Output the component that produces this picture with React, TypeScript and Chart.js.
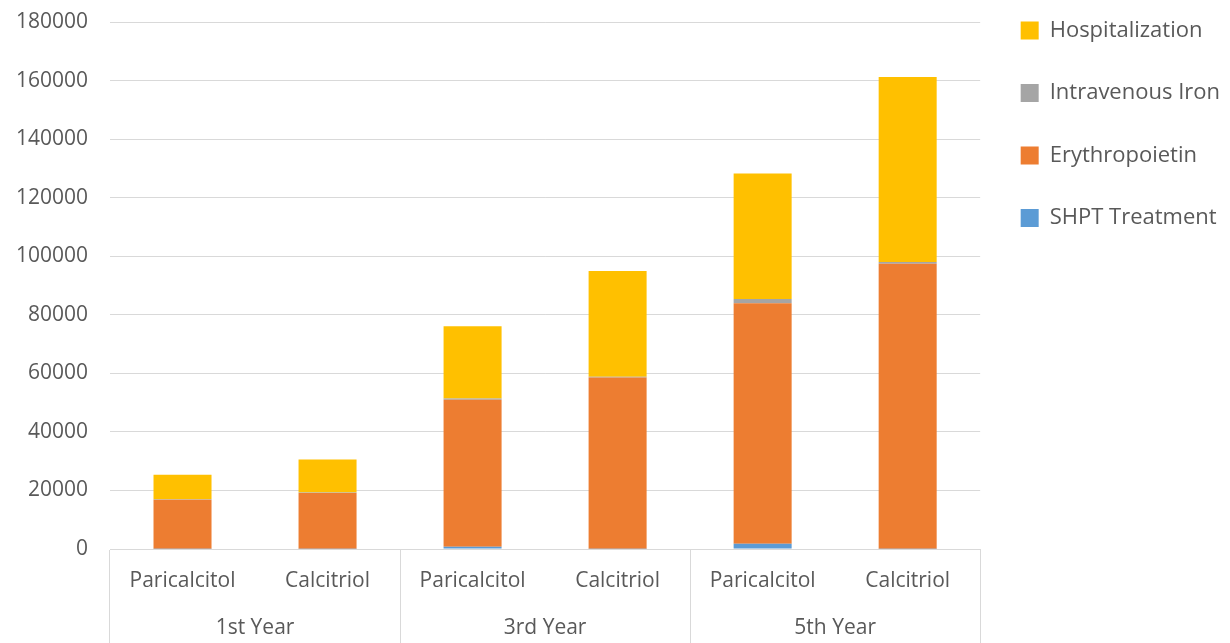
import React, { useEffect, useRef } from 'react';
import { Chart, registerables } from 'chart.js';

Chart.register(...registerables);

// Treatment arm for each bar, grouped two per follow-up year
const drugs = ['Paricalcitol', 'Calcitriol', 'Paricalcitol', 'Calcitriol', 'Paricalcitol', 'Calcitriol'];
const years = ['1st Year', '3rd Year', '5th Year'];

// Cumulative cost components per bar
const shptTreatment = [100, 100, 800, 100, 1800, 100];
const erythropoietin = [16700, 19000, 50200, 58500, 82200, 97400];
const intravenousIron = [200, 200, 400, 300, 1400, 600];
const hospitalization = [8400, 11300, 24700, 36100, 42900, 63200];

const yMin = 0;
const yMax = 180000;
const yStep = 20000;

const TEXT = '#595959';
const GRID = '#D9D9D9';
const FONT = '"Open Sans", "Noto Sans", sans-serif';

// Year captions centred under each pair of bars
const yearLabels = {
  id: 'yearLabels',
  afterDraw(chart: any) {
    const { ctx } = chart;
    const x = chart.scales.x;
    ctx.save();
    ctx.font = `21px ${FONT}`;
    ctx.fillStyle = TEXT;
    ctx.textAlign = 'center';
    ctx.textBaseline = 'middle';
    years.forEach((label, g) => {
      const cx = (x.getPixelForValue(2 * g) + x.getPixelForValue(2 * g + 1)) / 2;
      ctx.fillText(label, cx, x.bottom - 15);
    });
    ctx.restore();
  },
};

export default function App() {
  const canvasRef = useRef<HTMLCanvasElement | null>(null);

  useEffect(() => {
    document.body.style.margin = '0';
    const canvas = canvasRef.current;
    if (!canvas) return;

    const chart = new Chart(canvas, {
      type: 'bar',
      data: {
        labels: drugs,
        datasets: [
          { label: 'SHPT Treatment', data: shptTreatment, backgroundColor: '#5B9BD5' },
          { label: 'Erythropoietin', data: erythropoietin, backgroundColor: '#ED7D31' },
          { label: 'Intravenous Iron', data: intravenousIron, backgroundColor: '#A5A5A5' },
          { label: 'Hospitalization', data: hospitalization, backgroundColor: '#FFC000' },
        ],
      },
      options: {
        responsive: false,
        animation: false,
        devicePixelRatio: 1,
        datasets: {
          bar: { categoryPercentage: 1, barPercentage: 0.4, borderWidth: 0 },
        },
        layout: { padding: { top: -21, right: 0, bottom: 0, left: 0 } },
        plugins: {
          tooltip: { enabled: false },
          legend: {
            position: 'right',
            align: 'start',
            reverse: true,
            labels: {
              boxWidth: 18,
              boxHeight: 18,
              padding: 40.5,
              color: TEXT,
              font: { family: FONT, size: 22 },
            },
          },
        },
        scales: {
          x: {
            stacked: true,
            offset: true,
            border: { display: true, color: GRID, width: 1 },
            grid: {
              offset: true,
              drawOnChartArea: false,
              drawTicks: true,
              tickLength: 94,
              color: (ctx: any) =>
                ctx.index === undefined || ctx.index % 2 === 0 ? GRID : 'rgba(0,0,0,0)',
            },
            ticks: {
              color: TEXT,
              font: { family: FONT, size: 21 },
              padding: -74.3,
              maxRotation: 0,
              autoSkip: false,
            },
            afterFit: (s: any) => {
              s.height = 94;
            },
          },
          y: {
            stacked: true,
            min: yMin,
            max: yMax,
            border: { display: false },
            grid: {
              color: GRID,
              drawTicks: true,
              tickLength: 12,
              tickColor: 'rgba(0,0,0,0)',
            },
            ticks: {
              stepSize: yStep,
              color: TEXT,
              font: { family: FONT, size: 21, lineHeight: 1.17 },
              padding: 10,
              callback: (v: any) => String(v),
            },
            afterFit: (s: any) => {
              s.width = 110;
            },
          },
        },
      },
      plugins: [yearLabels],
    });

    return () => chart.destroy();
  }, []);

  return (
    <div style={{ width: 1230, height: 643 }}>
      <canvas ref={canvasRef} width={1230} height={643} style={{ display: 'block' }} />
    </div>
  );
}
